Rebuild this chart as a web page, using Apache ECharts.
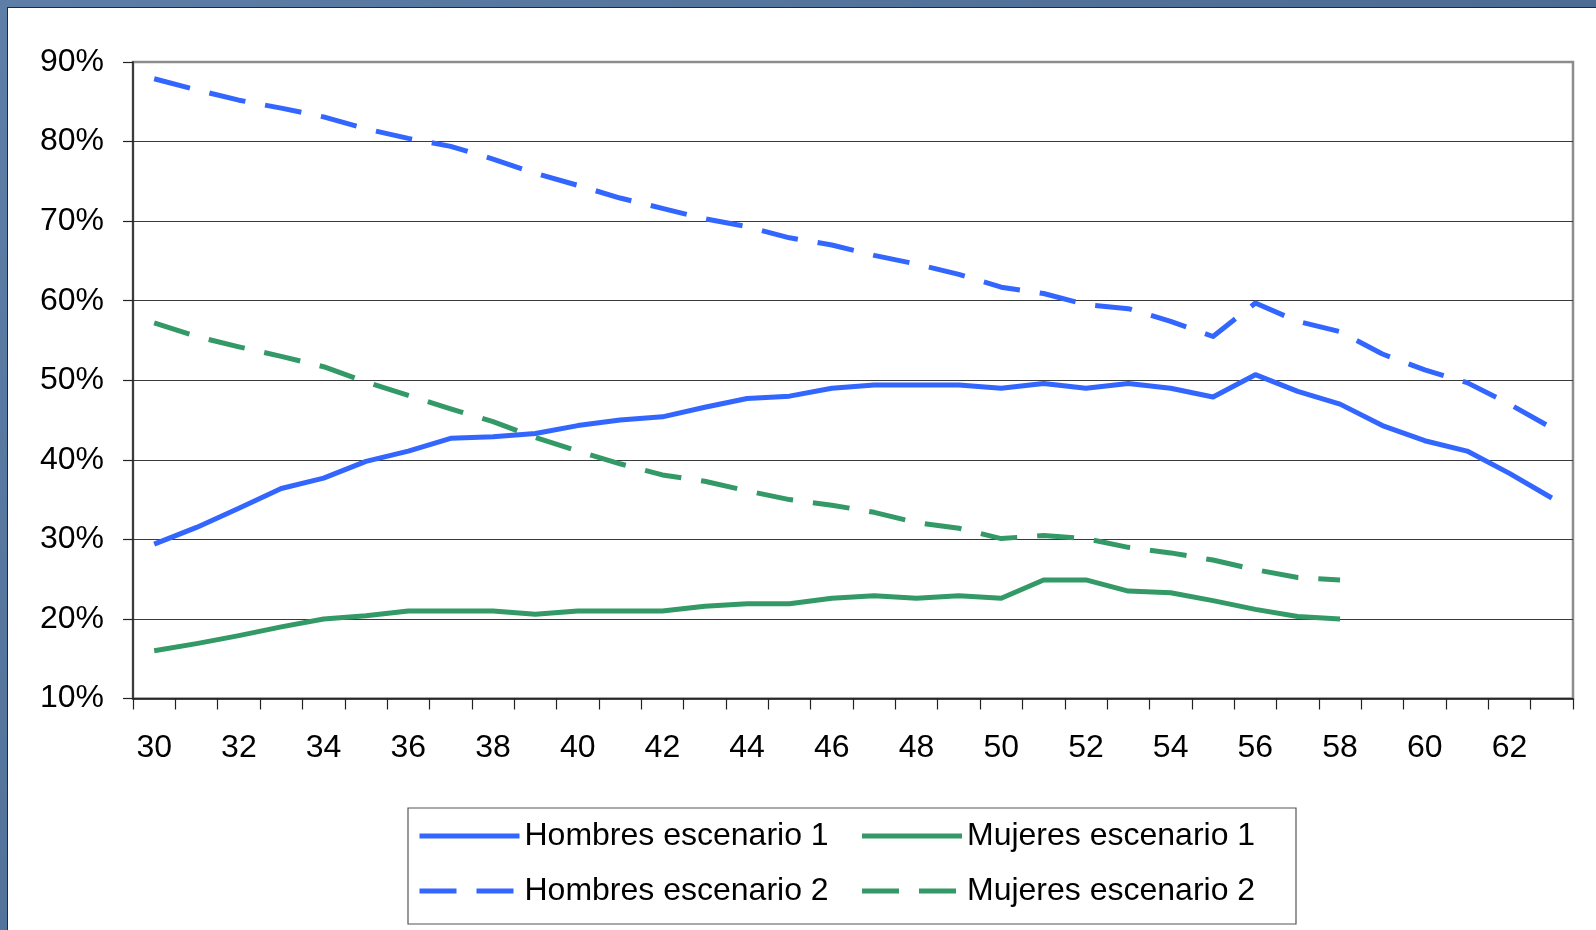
<!DOCTYPE html>
<html>
<head>
<meta charset="utf-8">
<script src="https://cdn.jsdelivr.net/npm/echarts@6/dist/echarts.min.js"></script>
<style>
  html, body { margin: 0; padding: 0; }
  body {
    width: 1596px; height: 930px; overflow: hidden; position: relative;
    background: linear-gradient(135deg, #5d7ea6 0%, #4f6f97 50%, #45658d 100%);
  }
  #panel {
    position: absolute; left: 7px; top: 7px; right: 0; bottom: 0;
    background: #ffffff;
    border-left: 1px solid #1d2b42; border-top: 1px solid #1d2b42;
  }
  #chart { position: absolute; left: 0; top: 0; width: 1596px; height: 930px; }
</style>
</head>
<body>
<div id="panel"></div>
<div id="chart"></div>
<script>
// Edad (años)
const edades = ['30','31','32','33','34','35','36','37','38','39','40','41','42','43','44','45','46',
                '47','48','49','50','51','52','53','54','55','56','57','58','59','60','61','62','63'];

// Porcentajes por edad (%)
const hombresEsc1 = [29.4, 31.5, 33.9, 36.4, 37.7, 39.8, 41.1, 42.7, 42.9, 43.3, 44.3, 45.0, 45.4, 46.6,
                     47.7, 48.0, 49.0, 49.4, 49.4, 49.4, 49.0, 49.6, 49.0, 49.6, 49.0, 47.9, 50.7, 48.6,
                     47.0, 44.3, 42.4, 41.1, 38.3, 35.2];
const hombresEsc2 = [87.9, 86.5, 85.2, 84.2, 83.1, 81.6, 80.4, 79.4, 77.8, 76.0, 74.5, 72.9, 71.6, 70.3,
                     69.3, 67.9, 67.0, 65.7, 64.6, 63.3, 61.7, 60.9, 59.5, 59.0, 57.4, 55.5, 59.7, 57.4,
                     56.1, 53.3, 51.3, 49.7, 47.0, 44.0];
const mujeresEsc1 = [16.0, 16.9, 17.9, 19.0, 20.0, 20.4, 21.0, 21.0, 21.0, 20.6, 21.0, 21.0, 21.0, 21.6,
                     21.9, 21.9, 22.6, 22.9, 22.6, 22.9, 22.6, 24.9, 24.9, 23.5, 23.3, 22.3, 21.2, 20.3,
                     20.0];
const mujeresEsc2 = [57.2, 55.5, 54.2, 53.0, 51.7, 49.8, 48.1, 46.4, 44.8, 42.8, 41.1, 39.5, 38.1, 37.3,
                     36.1, 35.0, 34.3, 33.4, 32.1, 31.4, 30.1, 30.5, 30.1, 29.0, 28.3, 27.4, 26.2, 25.2,
                     24.9];

const nombres = ['Hombres escenario 1', 'Mujeres escenario 1', 'Hombres escenario 2', 'Mujeres escenario 2'];

const AZUL = '#3366ff';
const VERDE = '#339966';
const FUENTE = "'Liberation Sans', Arial, sans-serif";
const TRAZO = [37, 20];
const GROSOR = 5;

const chart = echarts.init(document.getElementById('chart'), null, { renderer: 'canvas' });

function serie(nombre, datos, color, discontinua) {
  return {
    name: nombre,
    type: 'line',
    data: datos,
    symbol: 'none',
    smooth: false,
    color: color,
    lineStyle: { color: color, width: GROSOR, type: discontinua ? TRAZO : 'solid', cap: 'butt', join: 'round' },
    emphasis: { disabled: true },
    animation: false
  };
}

// gridline colours: darker inside, light grey at the top edge
const coloresRejilla = ['#3a3a3a','#3a3a3a','#3a3a3a','#3a3a3a','#3a3a3a','#3a3a3a','#3a3a3a','#3a3a3a','#8c8c8c'];

chart.setOption({
  backgroundColor: 'transparent',
  animation: false,
  grid: {
    left: 133, top: 62, right: 23, bottom: 231.5,
    show: true, borderColor: '#8c8c8c', borderWidth: 2.5, backgroundColor: 'transparent'
  },
  legend: {
    data: nombres,
    left: 408, top: 808,
    width: 900,
    orient: 'horizontal',
    padding: [8, 9, 13, 9],
    itemGap: 15,
    itemWidth: 100,
    itemHeight: 14,
    borderColor: '#555555',
    borderWidth: 1.2,
    backgroundColor: '#ffffff',
    itemStyle: { opacity: 0, borderWidth: 0 },
    lineStyle: { width: GROSOR, cap: 'butt' },
    textStyle: { fontFamily: FUENTE, fontSize: 32, color: '#000', width: 320, lineHeight: 40 },
    selectedMode: false
  },
  xAxis: {
    type: 'category',
    data: edades,
    boundaryGap: true,
    axisLine: { show: true, lineStyle: { color: '#222', width: 1.5 } },
    axisTick: { show: true, interval: 0, length: 11, inside: false, lineStyle: { color: '#222', width: 1.2 } },
    axisLabel: { interval: 1, margin: 34, fontFamily: FUENTE, fontSize: 32, color: '#000' },
    splitLine: { show: false }
  },
  yAxis: {
    type: 'value',
    min: 10, max: 90, interval: 10,
    axisLine: { show: true, lineStyle: { color: '#222', width: 1.5 } },
    axisTick: { show: true, length: 10, inside: false, lineStyle: { color: '#222', width: 1.2 } },
    axisLabel: { margin: 29, fontFamily: FUENTE, fontSize: 32, color: '#000', formatter: '{value}%' },
    splitLine: { show: true, lineStyle: { color: coloresRejilla, width: 1.2 } }
  },
  series: [
    serie(nombres[0], hombresEsc1, AZUL, false),
    serie(nombres[2], hombresEsc2, AZUL, true),
    serie(nombres[1], mujeresEsc1, VERDE, false),
    serie(nombres[3], mujeresEsc2, VERDE, true)
  ]
});
</script>
</body>
</html>
